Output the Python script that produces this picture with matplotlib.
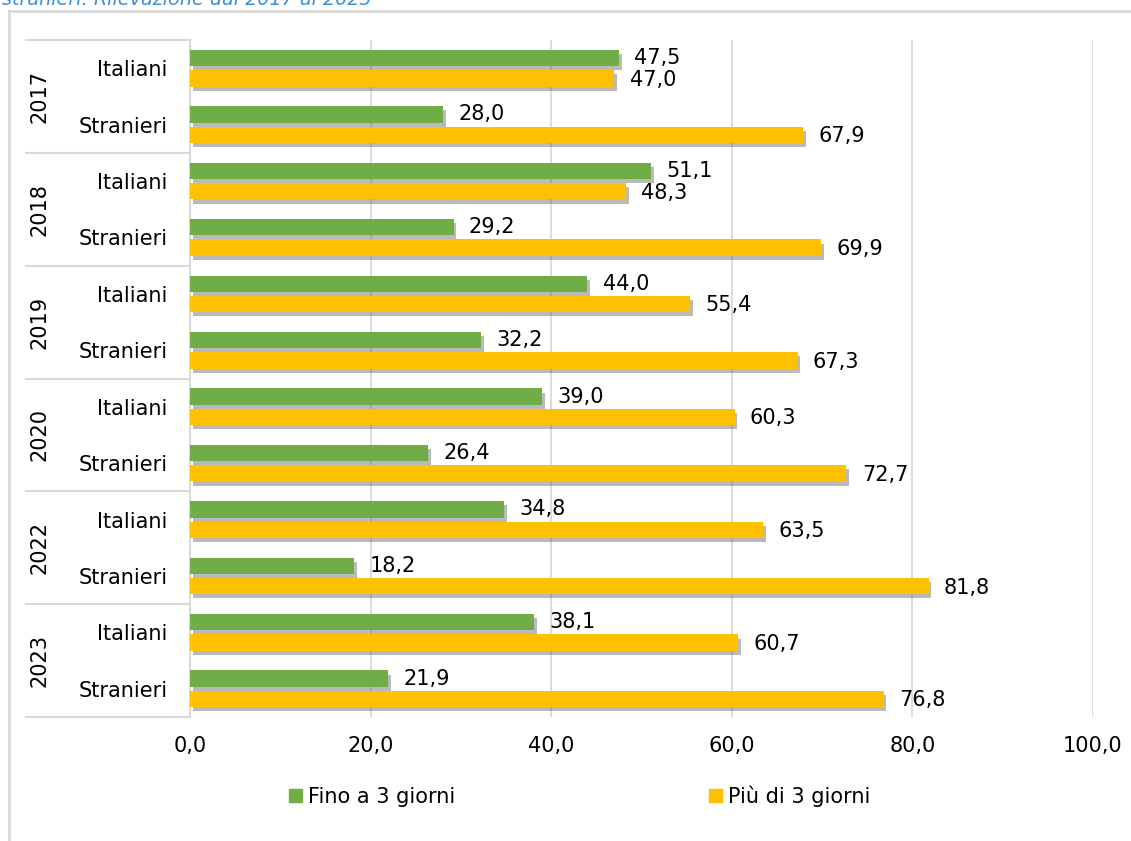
import numpy as np
import matplotlib.pyplot as plt
import matplotlib.patheffects as pe
from matplotlib.patches import Patch
from matplotlib.transforms import blended_transform_factory

years = ['2017', '2018', '2019', '2020', '2022', '2023']
groups = ['Italiani', 'Stranieri']
fino3 = [47.5, 28.0, 51.1, 29.2, 44.0, 32.2, 39.0, 26.4, 34.8, 18.2, 38.1, 21.9]
piu3 = [47.0, 67.9, 48.3, 69.9, 55.4, 67.3, 60.3, 72.7, 63.5, 81.8, 60.7, 76.8]
xticks = [0, 20, 40, 60, 80, 100]

green = '#70AD47'
yellow = '#FFC000'
grid_col = '#D9D9D9'
fs = 15

W, H = 1131, 841
fig = plt.figure(figsize=(W / 100, H / 100), dpi=100)
plt.rcParams['font.family'] = 'DejaVu Sans'

# chart border (light gray frame cut at right and bottom)
fig.add_artist(plt.Line2D([8.5 / W, 8.5 / W], [0, 1 - 10.5 / H], color=grid_col, lw=2))
fig.add_artist(plt.Line2D([8.5 / W, 1], [1 - 10.5 / H, 1 - 10.5 / H], color=grid_col, lw=2))

# truncated title at the very top (cut off as in the source)
fig.text(2 / W, 1 - 5 / H, 'stranieri. Rilevazione dal 2017 al 2023', style='italic',
         color='#3C8FDC', fontsize=13.8, va='baseline', ha='left')

left, right, top, bottom = 190, 1093, 40, 717
ax = fig.add_axes([left / W, 1 - bottom / H, (right - left) / W, (bottom - top) / H])

n = len(fino3)
y = np.arange(n)
off = 0.18
h = 0.29
shadow = [pe.SimplePatchShadow(offset=(2, -3), shadow_rgbFace='#666666', alpha=0.45), pe.Normal()]
b1 = ax.barh(y - off, fino3, height=h, color=green, zorder=3)
b2 = ax.barh(y + off, piu3, height=h, color=yellow, zorder=3)
for b in list(b1) + list(b2):
    b.set_path_effects(shadow)

for yi, v in zip(y, fino3):
    ax.annotate(f'{v:.1f}'.replace('.', ','), (v, yi - off), xytext=(11, 0),
                textcoords='offset points', va='center', ha='left', fontsize=fs)
for yi, v in zip(y, piu3):
    ax.annotate(f'{v:.1f}'.replace('.', ','), (v, yi + off), xytext=(11, -1),
                textcoords='offset points', va='center', ha='left', fontsize=fs)

ax.set_xlim(0, 100)
ax.set_ylim(n - 0.5, -0.5)
ax.set_xticks(xticks)
ax.set_xticklabels([f'{t:.1f}'.replace('.', ',') for t in xticks], fontsize=fs)
ax.tick_params(axis='x', length=0, pad=14)
ax.grid(axis='x', color=grid_col, lw=1.3, zorder=0)
ax.set_axisbelow(True)

ax.set_yticks(y)
ax.set_yticklabels(groups * len(years), fontsize=fs)
ax.tick_params(axis='y', length=0, pad=16)

for s in ['top', 'right', 'bottom']:
    ax.spines[s].set_visible(False)
ax.spines['left'].set_color(grid_col)
ax.spines['left'].set_linewidth(1.5)

# multi-level category axis: year separators and year labels
tr = blended_transform_factory(ax.transAxes, ax.transData)
x0 = (26 - left) / (right - left)
for k in range(len(years) + 1):
    yy = k * 2 - 0.5
    ax.plot([x0, 0], [yy, yy], color=grid_col, lw=1.5, transform=tr, clip_on=False)
for k, yr in enumerate(years):
    ax.text((40 - left) / (right - left), k * 2 + 0.5, yr, rotation=90, transform=tr,
            ha='center', va='center', fontsize=fs)

handles = [Patch(color=green, label='Fino a 3 giorni'), Patch(color=yellow, label='Più di 3 giorni')]
fig.legend(handles=handles, loc='center left', bbox_to_anchor=(289 / W, 1 - 796 / H), ncol=2,
           frameon=False, fontsize=fs, handlelength=0.6, handleheight=0.6,
           handletextpad=0.3, columnspacing=12.2, borderaxespad=0, borderpad=0)

fig.savefig('out.png', dpi=100)
